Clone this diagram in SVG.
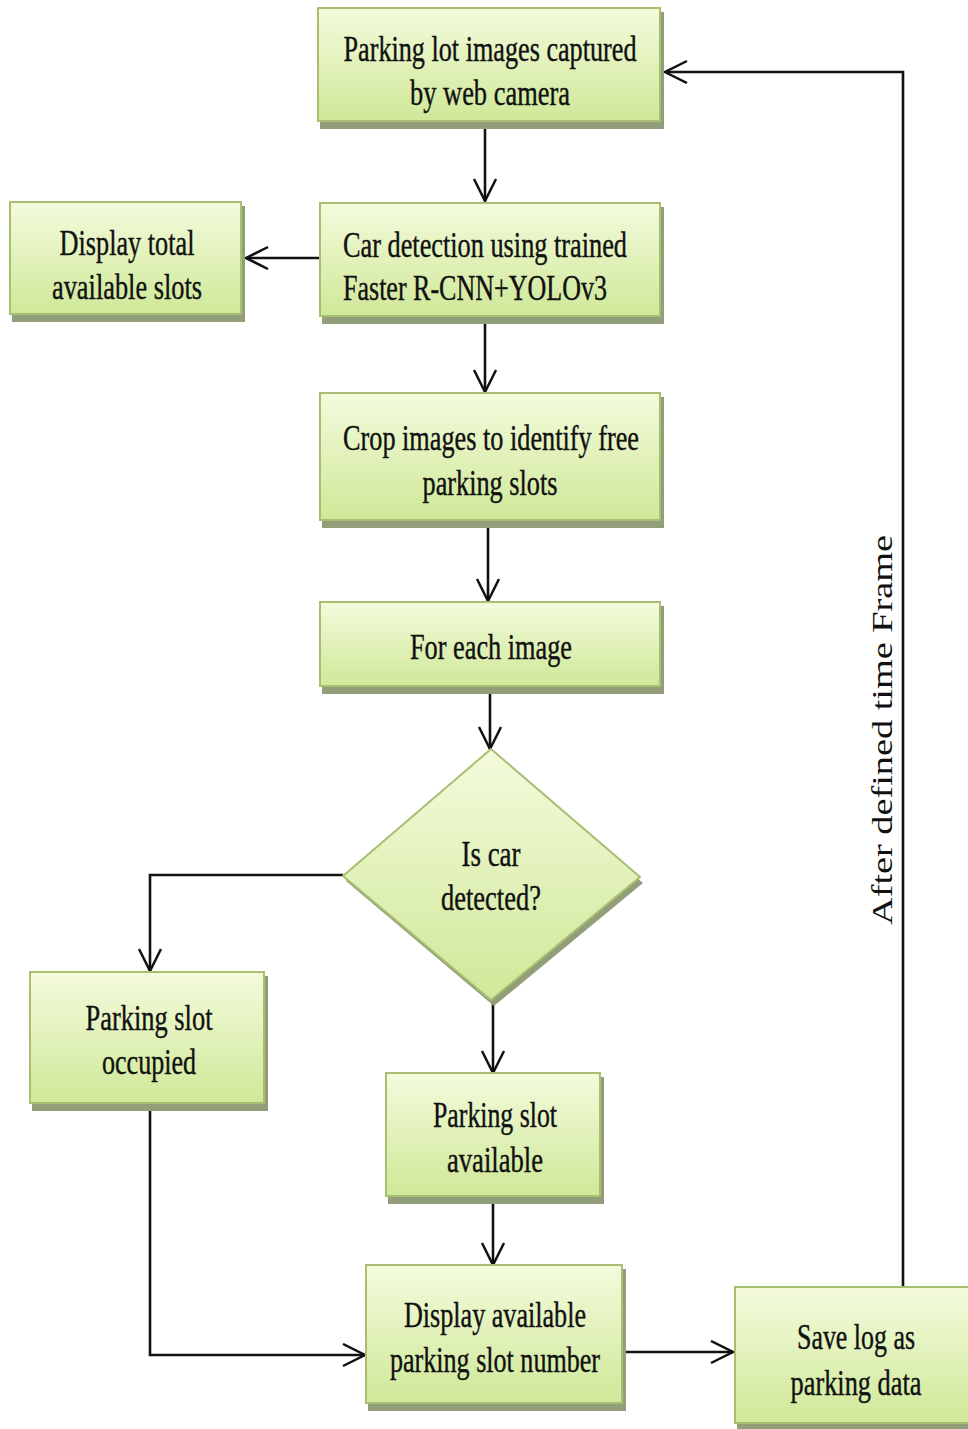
<svg xmlns="http://www.w3.org/2000/svg" width="968" height="1429" viewBox="0 0 968 1429">
<defs>
<linearGradient id="g" x1="0" y1="0" x2="0" y2="1">
<stop offset="0" stop-color="#f4fbdc"/>
<stop offset="1" stop-color="#cfe898"/>
</linearGradient>
<marker id="arr" markerUnits="userSpaceOnUse" markerWidth="30" markerHeight="30" refX="24" refY="12" orient="auto">
<path d="M2,1 L24,12 L2,23" fill="none" stroke="#111" stroke-width="2.5"/>
</marker>
</defs>
<style>
.box{fill:url(#g);stroke:#a8bf72;stroke-width:2}
.sh{fill:#929e7a}
.t{font-family:"Liberation Serif","Times New Roman",serif;font-size:36px;fill:#111;stroke:#111;stroke-width:0.4;text-anchor:middle}
.c{fill:none;stroke:#111;stroke-width:2.6}
.lbl{font-family:"Liberation Serif","Times New Roman",serif;font-size:30px;fill:#111;text-anchor:middle}
</style>
<rect width="968" height="1429" fill="#fff"/>
<g id="connectors">
<line class="c" x1="485" y1="127" x2="485" y2="201" marker-end="url(#arr)"/>
<line class="c" x1="320" y1="258" x2="246" y2="258" marker-end="url(#arr)"/>
<line class="c" x1="485" y1="322" x2="485" y2="392" marker-end="url(#arr)"/>
<line class="c" x1="488" y1="527" x2="488" y2="601" marker-end="url(#arr)"/>
<line class="c" x1="490" y1="692" x2="490" y2="749" marker-end="url(#arr)"/>
<polyline class="c" points="343,875 150,875 150,971" marker-end="url(#arr)"/>
<line class="c" x1="493" y1="1000" x2="493" y2="1073" marker-end="url(#arr)"/>
<line class="c" x1="493" y1="1203" x2="493" y2="1265" marker-end="url(#arr)"/>
<polyline class="c" points="150,1106 150,1355 365,1355" marker-end="url(#arr)"/>
<line class="c" x1="626" y1="1352" x2="733" y2="1352" marker-end="url(#arr)"/>
<polyline class="c" points="903,1287 903,72 665,72" marker-end="url(#arr)"/>
<text class="lbl" transform="translate(892,730) rotate(-90)" textLength="390" lengthAdjust="spacingAndGlyphs">After defined time Frame</text>
</g>
<g id="n1">
<rect class="sh" x="320" y="12" width="344" height="117"/>
<rect class="box" x="318" y="8" width="342" height="113"/>
<text class="t" x="490" y="61" textLength="293" lengthAdjust="spacingAndGlyphs">Parking lot images captured</text>
<text class="t" x="490" y="105" textLength="160" lengthAdjust="spacingAndGlyphs">by web camera</text>
</g>
<g id="n2">
<rect class="sh" x="322" y="207" width="342" height="117"/>
<rect class="box" x="320" y="203" width="340" height="113"/>
<text class="t" x="485" y="257" textLength="284" lengthAdjust="spacingAndGlyphs">Car detection using trained</text>
<text class="t" x="475" y="300" textLength="264" lengthAdjust="spacingAndGlyphs">Faster R-CNN+YOLOv3</text>
</g>
<g id="n3">
<rect class="sh" x="12" y="206" width="233" height="116"/>
<rect class="box" x="10" y="202" width="231" height="112"/>
<text class="t" x="127" y="255" textLength="135" lengthAdjust="spacingAndGlyphs">Display total</text>
<text class="t" x="127" y="299" textLength="150" lengthAdjust="spacingAndGlyphs">available slots</text>
</g>
<g id="n4">
<rect class="sh" x="322" y="397" width="342" height="131"/>
<rect class="box" x="320" y="393" width="340" height="127"/>
<text class="t" x="491" y="450" textLength="296" lengthAdjust="spacingAndGlyphs">Crop images to identify free</text>
<text class="t" x="490" y="495" textLength="135" lengthAdjust="spacingAndGlyphs">parking slots</text>
</g>
<g id="n5">
<rect class="sh" x="322" y="606" width="342" height="88"/>
<rect class="box" x="320" y="602" width="340" height="84"/>
<text class="t" x="491" y="659" textLength="162" lengthAdjust="spacingAndGlyphs">For each image</text>
</g>
<g id="n6">
<polygon class="sh" points="493,755 643,883 494,1006 346,881"/>
<polygon class="box" points="491,749 640,877 491,1000 343,876"/>
<text class="t" x="491" y="866" textLength="59" lengthAdjust="spacingAndGlyphs">Is car</text>
<text class="t" x="491" y="910" textLength="100" lengthAdjust="spacingAndGlyphs">detected?</text>
</g>
<g id="n7">
<rect class="sh" x="32" y="976" width="236" height="135"/>
<rect class="box" x="30" y="972" width="234" height="131"/>
<text class="t" x="149" y="1030" textLength="127" lengthAdjust="spacingAndGlyphs">Parking slot</text>
<text class="t" x="149" y="1074" textLength="94" lengthAdjust="spacingAndGlyphs">occupied</text>
</g>
<g id="n8">
<rect class="sh" x="388" y="1077" width="216" height="127"/>
<rect class="box" x="386" y="1073" width="214" height="123"/>
<text class="t" x="495" y="1127" textLength="124" lengthAdjust="spacingAndGlyphs">Parking slot</text>
<text class="t" x="495" y="1172" textLength="96" lengthAdjust="spacingAndGlyphs">available</text>
</g>
<g id="n9">
<rect class="sh" x="368" y="1269" width="258" height="142"/>
<rect class="box" x="366" y="1265" width="256" height="138"/>
<text class="t" x="495" y="1327" textLength="182" lengthAdjust="spacingAndGlyphs">Display available</text>
<text class="t" x="495" y="1372" textLength="210" lengthAdjust="spacingAndGlyphs">parking slot number</text>
</g>
<g id="n10">
<rect class="sh" x="737" y="1291" width="240" height="140"/>
<rect class="box" x="735" y="1287" width="238" height="136"/>
<text class="t" x="856" y="1349" textLength="118" lengthAdjust="spacingAndGlyphs">Save log as</text>
<text class="t" x="856" y="1395" textLength="131" lengthAdjust="spacingAndGlyphs">parking data</text>
</g>
</svg>
